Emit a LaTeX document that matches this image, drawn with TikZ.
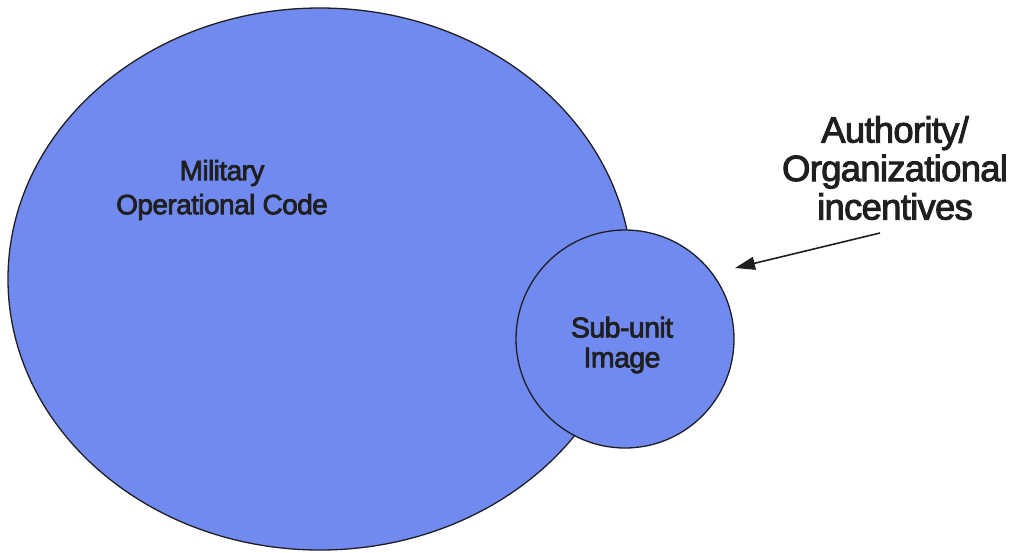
\documentclass[tikz,border=0pt]{standalone}
\usepackage{fontspec}
\setmainfont{Liberation Sans}
\newfontfamily\heavysans{Liberation Sans}[FakeBold=2.6,LetterSpace=-2]
\usetikzlibrary{shapes.geometric,arrows.meta}
\definecolor{setblue}{RGB}{113,138,240}
\definecolor{edge}{RGB}{30,30,35}
\tikzset{
  setshape/.style={draw=edge, line width=1.3pt, fill=setblue, inner sep=0pt},
  lbl/.style={align=center, text=black!88, inner sep=0pt},
  pointer/.style={draw=black!88, line width=1.6pt, -{Triangle[length=20pt,width=13pt]}}
}
\begin{document}
\begin{tikzpicture}[x=1pt,y=-1pt]
  \useasboundingbox (0,0) rectangle (1016,552);
  % the two sets
  \node[setshape, ellipse, minimum width=624pt, minimum height=542pt] (code) at (320,279) {};
  \node[setshape, circle, minimum size=218pt] (sub) at (625,339) {};
  % labels
  \node[lbl, font=\heavysans\fontsize{28}{34}\selectfont] (codelbl) at (222,190) {Military\\Operational Code};
  \node[lbl, font=\heavysans\fontsize{28.5}{30}\selectfont] (sublbl) at (622,345) {Sub-unit\\Image};
  \node[lbl, font=\heavysans\fontsize{36.5}{38.5}\selectfont] (auth) at (895,168) {Authority/\\Organizational\\incentives};
  % incentive arrow
  \coordinate (tail) at (880,233);
  \coordinate (tip) at (735,268);
  \draw[pointer] (tail) -- (tip);
\end{tikzpicture}
\end{document}
